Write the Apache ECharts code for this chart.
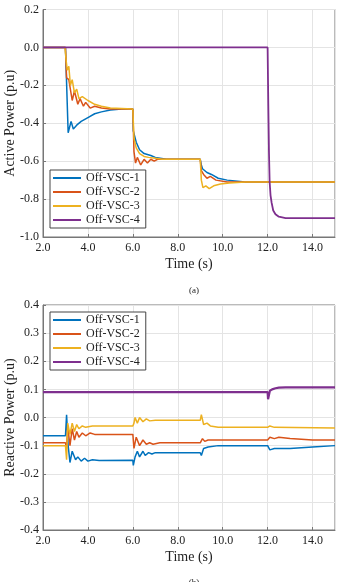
<!DOCTYPE html>
<html>
<head>
<meta charset="utf-8">
<script src="https://cdn.jsdelivr.net/npm/echarts@6.0.0/dist/echarts.min.js"></script>
<style>
  html, body { margin: 0; padding: 0; background: #fff; }
  #chart { width: 337px; height: 582px; }
</style>
</head>
<body>
<div id="chart"></div>
<script>
// series names
const names = ['Off-VSC-1', 'Off-VSC-2', 'Off-VSC-3', 'Off-VSC-4']

// (a) active power, time (s) and value (p.u)
const p1T = [2, 3.0, 3.12, 3.25, 3.35, 3.5, 3.7, 4.0, 4.3, 4.6, 5.0, 5.5, 6.0, 6.02, 6.15, 6.3, 6.5, 6.8, 7.0, 7.5, 9.0, 9.05, 9.1, 9.3, 9.5, 9.8, 10.2, 11, 15]
const p1V = [0, 0, -0.45, -0.39, -0.43, -0.41, -0.39, -0.37, -0.35, -0.34, -0.33, -0.325, -0.325, -0.44, -0.5, -0.54, -0.56, -0.57, -0.58, -0.59, -0.59, -0.62, -0.64, -0.66, -0.67, -0.69, -0.70, -0.71, -0.71]
const p2T = [2, 3.0, 3.05, 3.15, 3.3, 3.4, 3.55, 3.65, 3.8, 3.9, 4.1, 4.3, 4.6, 5.0, 6.0, 6.05, 6.12, 6.2, 6.35, 6.5, 6.65, 6.8, 6.95, 7.1, 7.4, 9.0, 9.05, 9.15, 9.3, 9.45, 9.7, 10.2, 15]
const p2V = [0, 0, -0.16, -0.17, -0.28, -0.23, -0.3, -0.27, -0.31, -0.29, -0.32, -0.31, -0.32, -0.325, -0.325, -0.55, -0.61, -0.58, -0.62, -0.59, -0.61, -0.59, -0.60, -0.59, -0.59, -0.59, -0.65, -0.67, -0.69, -0.68, -0.70, -0.71, -0.71]
const p3T = [2, 2.98, 3.03, 3.08, 3.15, 3.22, 3.3, 3.4, 3.5, 3.6, 3.75, 4.0, 4.3, 4.6, 5.0, 6.0, 6.05, 6.15, 6.3, 6.5, 6.7, 7.0, 7.3, 9.0, 9.05, 9.12, 9.25, 9.4, 9.6, 9.9, 10.3, 11, 15]
const p3V = [0, 0, -0.07, -0.12, -0.1, -0.2, -0.17, -0.24, -0.22, -0.27, -0.26, -0.28, -0.3, -0.31, -0.32, -0.325, -0.48, -0.53, -0.56, -0.575, -0.58, -0.585, -0.59, -0.59, -0.70, -0.74, -0.73, -0.745, -0.73, -0.72, -0.715, -0.71, -0.71]
const p4T = [2, 12.0, 12.03, 12.06, 12.09, 12.13, 12.18, 12.25, 12.35, 12.5, 12.8, 15]
const p4V = [0, 0, -0.3, -0.55, -0.71, -0.78, -0.82, -0.86, -0.88, -0.893, -0.9, -0.9]

// (b) reactive power
const q1T = [2, 3.0, 3.05, 3.12, 3.2, 3.3, 3.45, 3.55, 3.7, 3.85, 4.0, 4.2, 4.5, 6.0, 6.02, 6.1, 6.2, 6.3, 6.45, 6.55, 6.7, 6.85, 7.0, 9.0, 9.05, 9.15, 9.2, 9.35, 9.8, 12.0, 12.1, 12.3, 13, 14, 15]
const q1V = [-0.065, -0.065, 0.01, -0.1, -0.16, -0.12, -0.15, -0.14, -0.155, -0.145, -0.155, -0.15, -0.153, -0.152, -0.17, -0.14, -0.12, -0.14, -0.12, -0.135, -0.125, -0.13, -0.125, -0.125, -0.135, -0.11, -0.115, -0.105, -0.1, -0.1, -0.115, -0.11, -0.11, -0.105, -0.1]
const q2T = [2, 3.0, 3.05, 3.1, 3.2, 3.3, 3.4, 3.5, 3.6, 3.75, 3.9, 4.1, 4.3, 6.0, 6.05, 6.15, 6.3, 6.45, 6.6, 6.75, 6.9, 7.2, 9.0, 9.1, 9.2, 9.35, 9.6, 12.0, 12.1, 12.3, 12.5, 13, 14, 15]
const q2V = [-0.09, -0.09, -0.11, -0.03, -0.1, -0.04, -0.08, -0.05, -0.07, -0.055, -0.065, -0.055, -0.06, -0.06, -0.11, -0.07, -0.1, -0.08, -0.095, -0.09, -0.095, -0.09, -0.09, -0.075, -0.085, -0.08, -0.08, -0.08, -0.07, -0.075, -0.07, -0.075, -0.08, -0.08]
const q3T = [2, 3.0, 3.05, 3.1, 3.2, 3.3, 3.4, 3.5, 3.6, 3.75, 3.9, 4.2, 6.0, 6.05, 6.1, 6.2, 6.3, 6.45, 6.6, 6.75, 7.0, 9.0, 9.05, 9.15, 9.3, 9.45, 9.8, 12.0, 12.1, 12.3, 15]
const q3V = [-0.1, -0.1, -0.15, -0.02, -0.06, -0.02, -0.05, -0.025, -0.04, -0.03, -0.035, -0.03, -0.03, -0.02, 0.0, -0.02, 0.0, -0.015, -0.005, -0.012, -0.01, -0.01, 0.01, -0.025, -0.02, -0.03, -0.035, -0.035, -0.03, -0.035, -0.037]
const q4T = [2, 12.0, 12.02, 12.1, 12.2, 12.35, 12.5, 12.8, 13, 15]
const q4V = [0.09, 0.09, 0.065, 0.095, 0.1, 0.104, 0.106, 0.107, 0.107, 0.107]

const colors = ['#0072BD', '#D95319', '#EDB120', '#7E2F8E']
const font = 'Liberation Serif'
const axisColor = '#777'

const pairs = (t, v) => t.map((x, i) => [x, v[i]])

const chart = echarts.init(document.getElementById('chart'))

const xAxisBase = gridIndex => ({
  type: 'value',
  gridIndex,
  min: 2,
  max: 15,
  interval: 2,
  name: 'Time (s)',
  nameLocation: 'middle',
  nameGap: 20,
  nameMoveOverlap: false,
  nameTextStyle: { fontFamily: font, fontSize: 14, color: '#222' },
  axisLine: { onZero: false, lineStyle: { color: axisColor } },
  axisTick: { inside: true, length: 3, lineStyle: { color: axisColor } },
  axisLabel: { fontFamily: font, fontSize: 12, color: '#222', margin: 5, showMaxLabel: false, formatter: v => v.toFixed(1) },
  splitLine: { lineStyle: { color: '#e4e4e4' } },
})

const yAxisBase = (gridIndex, name, min, max, interval) => ({
  type: 'value',
  gridIndex,
  min,
  max,
  interval,
  name,
  nameLocation: 'middle',
  nameGap: 26,
  nameMoveOverlap: false,
  nameTextStyle: { fontFamily: font, fontSize: 14, color: '#222' },
  axisLine: { show: true, onZero: false, lineStyle: { color: axisColor } },
  axisTick: { show: true, inside: true, length: 3, lineStyle: { color: axisColor } },
  axisLabel: { fontFamily: font, fontSize: 12, color: '#222', margin: 4, formatter: v => v.toFixed(1) },
  splitLine: { lineStyle: { color: '#e4e4e4' } },
})

const legendBase = top => ({
  orient: 'vertical',
  left: 50,
  top,
  data: names,
  icon: 'rect',
  itemWidth: 28,
  itemHeight: 2,
  itemGap: 2,
  padding: [2, 6, 2, 3],
  borderColor: '#444',
  borderWidth: 1,
  backgroundColor: '#fff',
  textStyle: { fontFamily: font, fontSize: 12, color: '#222' },
})

const lineSeries = (i, gi, t, v, width) => ({
  name: names[i],
  type: 'line',
  xAxisIndex: gi,
  yAxisIndex: gi,
  data: pairs(t, v),
  showSymbol: false,
  lineStyle: { width, color: colors[i] },
  itemStyle: { color: colors[i] },
})

const gridBase = {
  show: true,
  borderColor: axisColor,
  borderWidth: 1,
  containLabel: false,
  outerBoundsMode: 'none',
}

const option = {
  animation: false,
  title: [
    { text: '(a)', left: 189, top: 281, textAlign: 'center', textStyle: { fontFamily: font, fontSize: 9, fontWeight: 'normal', color: '#222' } },
    { text: '(b)', left: 189, top: 573, textAlign: 'center', textStyle: { fontFamily: font, fontSize: 9, fontWeight: 'normal', color: '#222' } },
  ],
  grid: [
    { ...gridBase, left: 43, top: 9.5, width: 292, height: 227.5 },
    { ...gridBase, left: 43, top: 305, width: 292, height: 225 },
  ],
  xAxis: [xAxisBase(0), xAxisBase(1)],
  yAxis: [
    yAxisBase(0, 'Active Power (p.u)', -1.0, 0.2, 0.2),
    yAxisBase(1, 'Reactive Power (p.u)', -0.4, 0.4, 0.1),
  ],
  legend: [
    { ...legendBase(170), id: 'la' },
    { ...legendBase(312), id: 'lb' },
  ],
  series: [
    lineSeries(0, 0, p1T, p1V, 1.5),
    lineSeries(1, 0, p2T, p2V, 1.5),
    lineSeries(2, 0, p3T, p3V, 1.5),
    lineSeries(3, 0, p4T, p4V, 1.8),
    lineSeries(0, 1, q1T, q1V, 1.5),
    lineSeries(1, 1, q2T, q2V, 1.5),
    lineSeries(2, 1, q3T, q3V, 1.5),
    lineSeries(3, 1, q4T, q4V, 2.2),
  ],
}

chart.setOption(option)
</script>
</body>
</html>
